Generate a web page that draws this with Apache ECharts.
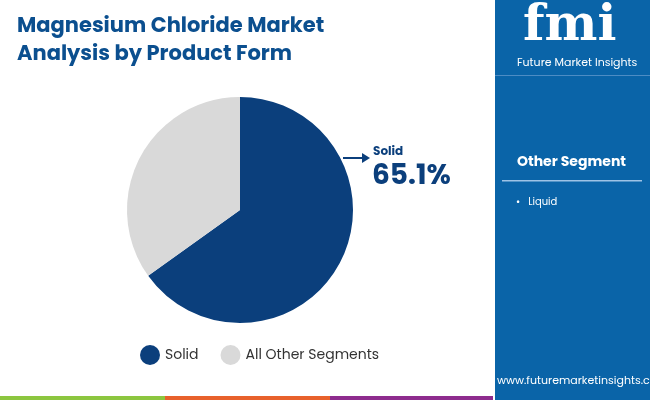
<!DOCTYPE html>
<html><head><meta charset="utf-8">
<script src="https://cdn.jsdelivr.net/npm/echarts@6/dist/echarts.min.js"></script>
<style>html,body{margin:0;padding:0;background:#fff}#c{width:650px;height:400px}</style>
</head><body><div id="c"></div>
<script>
const categories = ["Solid", "All Other Segments"];
const values = [65.1, 34.9];
const colors = ["#0b3f7c", "#d9d9d9"];
const otherSegments = ["Liquid"];
const F = "Poppins, 'Open Sans', Roboto, sans-serif";
const chart = echarts.init(document.getElementById('c'));
chart.setOption({
  animation: false,
  title: {text: "Magnesium Chloride Market\nAnalysis by Product Form", left: 12, top: 8,
    textStyle: {color: "#0b4f8f", fontSize: 21, fontWeight: "bold", fontFamily: F, lineHeight: 28}},
  legend: {bottom: 30, left: 135, itemGap: 22, icon: "circle", itemWidth: 20, itemHeight: 20,
    textStyle: {fontSize: 14, color: "#333", fontFamily: F}, data: categories},
  series: [{type: "pie", center: [240, 210], radius: [0, 113], startAngle: 90, clockwise: true,
    label: {show: false}, labelLine: {show: false}, silent: true,
    data: categories.map((c, i) => ({name: c, value: values[i], itemStyle: {color: colors[i]}}))}],
  graphic: [
    {type: "rect", shape: {x: 495, y: 0, width: 155, height: 400}, style: {fill: "#0a64a8"}},
    {type: "rect", shape: {x: 493, y: 0, width: 2, height: 400}, style: {fill: "#ffffff"}},
    {type: "rect", shape: {x: 0, y: 396, width: 165, height: 4}, style: {fill: "#8cc63f"}},
    {type: "rect", shape: {x: 165, y: 396, width: 165, height: 4}, style: {fill: "#e8612c"}},
    {type: "rect", shape: {x: 330, y: 396, width: 163, height: 4}, style: {fill: "#8e2c8e"}},
    {type: "text", left: 523, top: 2, style: {text: "fmi", fill: "#fff", font: "bold 50px 'DejaVu Serif', serif"}},
    {type: "text", left: 517, top: 58, style: {text: "Future Market Insights", fill: "#fff", font: "11px " + F}},
    {type: "rect", shape: {x: 495, y: 75, width: 155, height: 1}, style: {fill: "#4d8cc4"}},
    {type: "text", left: 517, top: 155, style: {text: "Other Segment", fill: "#fff", font: "bold 14px " + F}},
    {type: "rect", shape: {x: 502, y: 180, width: 140, height: 1.5}, style: {fill: "#9ec3e6"}},
    ...otherSegments.map((s, i) => ({type: "text", left: 516, top: 197 + i * 20,
      style: {text: "•   " + s, fill: "#fff", font: "10px " + F}})),
    {type: "text", left: 497, top: 376, style: {text: "www.futuremarketinsights.com", fill: "#fff", font: "11px " + F}},
    {type: "line", shape: {x1: 343, y1: 158, x2: 362, y2: 158}, style: {stroke: "#0b3f7c", lineWidth: 2}},
    {type: "polygon", shape: {points: [[362, 153], [370, 158], [362, 163]]}, style: {fill: "#0b3f7c"}},
    {type: "text", left: 373, top: 146, style: {text: categories[0], fill: "#0b3f7c", font: "bold 12px " + F}},
    {type: "text", left: 372, top: 163, style: {text: values[0].toFixed(1) + "%", fill: "#0b3f7c", font: "bold 28px " + F}}
  ]
});
</script></body></html>
